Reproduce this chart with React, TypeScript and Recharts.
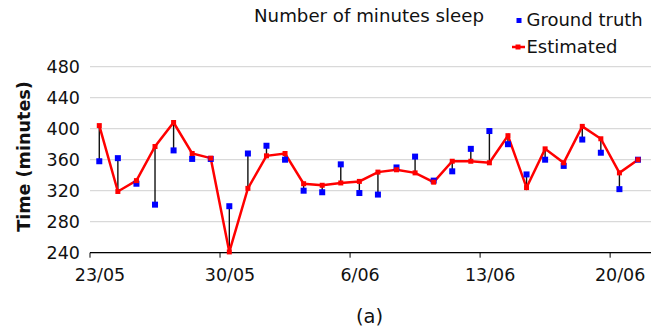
import React from "react";
import {
  ComposedChart,
  Line,
  Scatter,
  ErrorBar,
  XAxis,
  YAxis,
  CartesianGrid,
} from "recharts";

const FONT = "'DejaVu Sans', sans-serif";

// one entry per night, 23/05 .. 21/06
const dates = [
  "23/05", "24/05", "25/05", "26/05", "27/05", "28/05", "29/05", "30/05",
  "31/05", "1/06", "2/06", "3/06", "4/06", "5/06", "6/06", "7/06", "8/06",
  "9/06", "10/06", "11/06", "12/06", "13/06", "14/06", "15/06", "16/06",
  "17/06", "18/06", "19/06", "20/06", "21/06",
];

const groundTruth = [
  358, 362, 329, 302, 372, 361, 361, 300, 368, 378, 360, 320, 318, 354, 317,
  315, 350, 364, 333, 345, 374, 397, 380, 341, 360, 352, 386, 369, 322, 360,
];

const estimated = [
  404, 319, 333, 377, 408, 368, 362, 241, 323, 365, 368, 329, 327, 330, 332,
  344, 347, 343, 331, 358, 358, 356, 391, 324, 374, 356, 403, 387, 343, 360,
];

// x ticks sit at the start of each labelled day
const tickDays = [-0.5, 6.5, 13.5, 20.5, 27.5];
const tickLabels = ["23/05", "30/05", "6/06", "13/06", "20/06"];
const yTicks = [240, 280, 320, 360, 400, 440, 480];

const data = dates.map((date, i) => {
  const gt = groundTruth[i];
  const est = estimated[i];
  const lo = Math.min(gt, est);
  const hi = Math.max(gt, est);
  return { day: i, date, gt, est, err: [gt - lo, hi - gt] };
});

const XTick = (props: any) => {
  const { x, y, payload } = props;
  const idx = tickDays.indexOf(payload.value);
  return (
    <text
      x={x + 10}
      y={y}
      dy={21}
      textAnchor="middle"
      fontFamily={FONT}
      fontSize={17.5}
      fill="#111"
    >
      {tickLabels[idx] ?? ""}
    </text>
  );
};

const Square = (size: number, color: string) => (props: any) => {
  const { cx, cy } = props;
  if (cx == null || cy == null) return <g />;
  return (
    <rect x={cx - size / 2} y={cy - size / 2} width={size} height={size} fill={color} />
  );
};

export default function App() {
  return (
    <div
      style={{
        position: "absolute",
        left: 0,
        top: 0,
        width: 662,
        height: 328,
        background: "#fff",
      }}
    >
      <ComposedChart
        width={662}
        height={328}
        data={data}
        margin={{ top: 66.7, right: 11, bottom: 45.3, left: 0 }}
      >
        <CartesianGrid vertical={false} stroke="#d9d9d9" strokeWidth={1.2} />
        <XAxis
          dataKey="day"
          type="number"
          domain={[-0.5, 29.7]}
          ticks={tickDays}
          tick={<XTick />}
          height={30}
          tickSize={5}
          tickLine={{ stroke: "#000" }}
          axisLine={{ stroke: "#000", strokeWidth: 1.2 }}
          allowDataOverflow
        />
        <YAxis
          type="number"
          domain={[240, 480]}
          ticks={yTicks}
          width={90}
          tickSize={0}
          tickMargin={10}
          axisLine={false}
          tickLine={false}
          tick={{ fontFamily: FONT, fontSize: 17.5, fill: "#111" }}
        />
        <Scatter
          dataKey="gt"
          fill="#0000ff"
          shape={Square(6, "#0000ff")}
          isAnimationActive={false}
        >
          <ErrorBar
            dataKey="err"
            direction="y"
            width={0}
            stroke="#111"
            strokeWidth={1.4}
            isAnimationActive={false}
          />
        </Scatter>
        <Line
          dataKey="est"
          stroke="#ff0000"
          strokeWidth={2.5}
          dot={Square(5, "#ff0000")}
          activeDot={false}
          isAnimationActive={false}
        />
      </ComposedChart>
      <svg
        width={662}
        height={328}
        style={{ position: "absolute", left: 0, top: 0, pointerEvents: "none" }}
        fontFamily={FONT}
      >
        <text x={254} y={22.3} fontSize={18.2} fill="#111">
          Number of minutes sleep
        </text>
        <rect x={516.5} y={18} width={5} height={5} fill="#0000ff" />
        <text x={526.5} y={26} fontSize={18} fill="#111">
          Ground truth
        </text>
        <line x1={512} y1={47} x2={525} y2={47} stroke="#ff0000" strokeWidth={2.5} />
        <rect x={515.5} y={44.5} width={5} height={5} fill="#ff0000" />
        <text x={526.5} y={53.3} fontSize={18} fill="#111">
          Estimated
        </text>
        <text
          x={29.5}
          y={156.5}
          fontSize={17.6}
          fontWeight="bold"
          fill="#111"
          textAnchor="middle"
          transform="rotate(-90 29.5 156.5)"
        >
          Time (minutes)
        </text>
        <text x={369.5} y={323} fontSize={19.5} fill="#111" textAnchor="middle">
          (a)
        </text>
      </svg>
    </div>
  );
}
